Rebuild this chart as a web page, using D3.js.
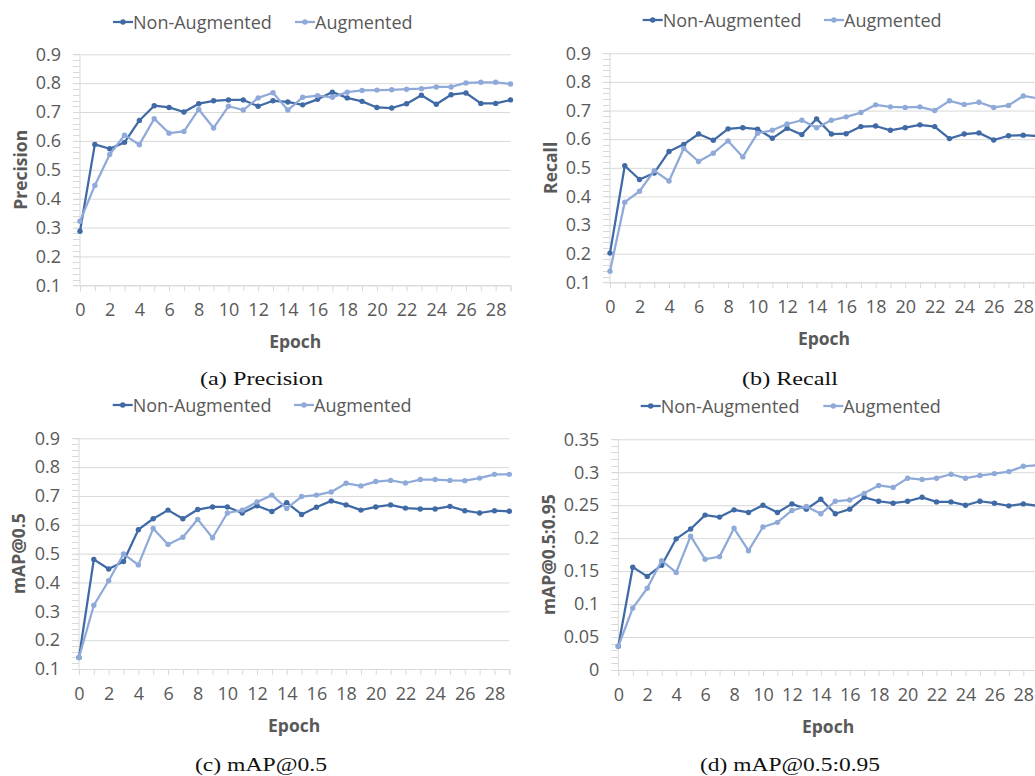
<!DOCTYPE html>
<html>
<head>
<meta charset="utf-8">
<script src="https://cdn.jsdelivr.net/npm/d3@7"></script>
<style>
  body { margin: 0; background: #fff; }
  svg { display: block; }
</style>
</head>
<body>
<svg id="chart" width="1035" height="776"></svg>
<script>
// data
const EPOCHS = [0, 1, 2, 3, 4, 5, 6, 7, 8, 9, 10, 11, 12, 13, 14, 15, 16, 17, 18, 19, 20, 21, 22, 23, 24, 25, 26, 27, 28, 29]
const SERIES_NAMES = ["Non-Augmented", "Augmented"]
const X_TICK_LABELS = [0, 2, 4, 6, 8, 10, 12, 14, 16, 18, 20, 22, 24, 26, 28]

const PRECISION_NON = [0.287, 0.588, 0.573, 0.595, 0.671, 0.722, 0.716, 0.700, 0.729, 0.739, 0.742, 0.742, 0.720, 0.739, 0.735, 0.725, 0.744, 0.769, 0.749, 0.737, 0.716, 0.714, 0.729, 0.758, 0.727, 0.760, 0.766, 0.730, 0.730, 0.742]
const PRECISION_AUG = [0.322, 0.446, 0.553, 0.620, 0.587, 0.677, 0.627, 0.633, 0.709, 0.645, 0.720, 0.707, 0.749, 0.767, 0.707, 0.751, 0.757, 0.751, 0.769, 0.775, 0.776, 0.777, 0.779, 0.781, 0.787, 0.787, 0.801, 0.803, 0.803, 0.797]

const RECALL_NON = [0.202, 0.507, 0.459, 0.482, 0.557, 0.582, 0.618, 0.596, 0.636, 0.640, 0.635, 0.603, 0.638, 0.616, 0.671, 0.618, 0.619, 0.644, 0.646, 0.631, 0.640, 0.650, 0.644, 0.602, 0.618, 0.622, 0.597, 0.612, 0.614, 0.611]
const RECALL_AUG = [0.139, 0.380, 0.418, 0.490, 0.454, 0.568, 0.522, 0.551, 0.594, 0.538, 0.621, 0.631, 0.653, 0.666, 0.640, 0.666, 0.678, 0.693, 0.720, 0.713, 0.711, 0.713, 0.700, 0.734, 0.721, 0.729, 0.711, 0.718, 0.751, 0.743]

const MAP50_NON = [0.140, 0.480, 0.447, 0.473, 0.583, 0.621, 0.651, 0.621, 0.653, 0.662, 0.662, 0.641, 0.666, 0.646, 0.677, 0.636, 0.661, 0.683, 0.669, 0.651, 0.662, 0.669, 0.658, 0.655, 0.655, 0.664, 0.649, 0.641, 0.649, 0.647]
const MAP50_AUG = [0.140, 0.321, 0.406, 0.499, 0.461, 0.587, 0.532, 0.557, 0.619, 0.555, 0.641, 0.651, 0.679, 0.703, 0.657, 0.698, 0.703, 0.714, 0.744, 0.735, 0.750, 0.754, 0.745, 0.757, 0.757, 0.754, 0.753, 0.762, 0.775, 0.775]

const MAP5095_NON = [0.036, 0.156, 0.142, 0.159, 0.199, 0.214, 0.235, 0.232, 0.243, 0.239, 0.250, 0.239, 0.252, 0.244, 0.259, 0.237, 0.244, 0.262, 0.256, 0.253, 0.256, 0.262, 0.255, 0.255, 0.250, 0.256, 0.253, 0.249, 0.252, 0.249]
const MAP5095_AUG = [0.036, 0.094, 0.124, 0.166, 0.148, 0.203, 0.168, 0.172, 0.215, 0.181, 0.217, 0.224, 0.242, 0.248, 0.237, 0.256, 0.258, 0.268, 0.280, 0.277, 0.291, 0.289, 0.291, 0.297, 0.291, 0.295, 0.298, 0.301, 0.309, 0.311]

const Y_TICKS_RATE = [0.1, 0.2, 0.3, 0.4, 0.5, 0.6, 0.7, 0.8, 0.9]
const Y_TICKS_MAP5095 = [0, 0.05, 0.1, 0.15, 0.2, 0.25, 0.3, 0.35]

const COLORS = ["#3f6aa5", "#8faad8"]
const TEXT_COLOR = "#595959"
const GRID_COLOR = "#d9d9d9"
const SANS = "'Open Sans', sans-serif"
const SERIF = "'Liberation Serif', serif"

const svg = d3.select("#chart")

// one panel per metric; layout numbers are pixel positions in the page
const panels = [
  { title: "Precision", caption: "(a) Precision", capW: 123, series: [PRECISION_NON, PRECISION_AUG],
    yTicks: Y_TICKS_RATE, minor: 0.02, x0: 80, x1: 510.5, yTop: 54.3, yBot: 285.3,
    legendY: 22, legendX: 113, legendX2: 295, titleX: 20, capX: 261.5, capY: 379 },
  { title: "Recall", caption: "(b) Recall", capW: 96, series: [RECALL_NON, RECALL_AUG],
    yTicks: Y_TICKS_RATE, minor: 0.02, x0: 610, x1: 1038, yTop: 53.3, yBot: 282.3,
    legendY: 20, legendX: 642.7, legendX2: 824, titleX: 550, capX: 790, capY: 379 },
  { title: "mAP@0.5", caption: "(c) mAP@0.5", capW: 132, series: [MAP50_NON, MAP50_AUG],
    yTicks: Y_TICKS_RATE, minor: 0.02, x0: 79, x1: 509.3, yTop: 438.3, yBot: 669,
    legendY: 405, legendX: 112.7, legendX2: 294, titleX: 18, capX: 261, capY: 765 },
  { title: "mAP@0.5:0.95", caption: "(d) mAP@0.5:0.95", capW: 180, series: [MAP5095_NON, MAP5095_AUG],
    yTicks: Y_TICKS_MAP5095, minor: 0.01, x0: 618.3, x1: 1037.8, yTop: 439.3, yBot: 670,
    legendY: 406, legendX: 640.7, legendX2: 823.3, titleX: 548, capX: 790, capY: 765 },
]

const drawPanel = (p) => {
  const g = svg.append("g")
  const yMin = p.yTicks[0]
  const yMax = p.yTicks[p.yTicks.length - 1]

  const x = d3.scaleLinear().domain([EPOCHS[0], EPOCHS[EPOCHS.length - 1]]).range([p.x0, p.x1])
  const y = d3.scaleLinear().domain([yMin, yMax]).range([p.yBot, p.yTop])

  // minor ticks on the y axis
  const minorTicks = d3.range(yMin, yMax + p.minor / 2, p.minor)
  g.selectAll(".minor")
    .data(minorTicks)
    .join("line")
    .attr("x1", p.x0 - 7)
    .attr("x2", p.x0)
    .attr("y1", (d) => Math.round(y(d)) + 0.5)
    .attr("y2", (d) => Math.round(y(d)) + 0.5)
    .attr("stroke", GRID_COLOR)
    .attr("stroke-width", 1)

  // gridlines + y labels
  const yAxis = d3.axisLeft(y)
    .tickValues(p.yTicks)
    .tickSize(-(p.x1 - p.x0))
    .tickPadding(19)
    .tickFormat((d) => String(d))
  const ya = g.append("g").attr("transform", `translate(${p.x0},0)`).call(yAxis)
  ya.select(".domain").remove()
  ya.selectAll(".tick line").attr("stroke", GRID_COLOR).attr("x2", p.x1 - p.x0).attr("x1", -6)
  ya.selectAll(".tick text")
    .attr("fill", TEXT_COLOR)
    .attr("font-family", SANS)
    .attr("font-size", 18)

  // y axis line
  g.append("line")
    .attr("x1", p.x0).attr("x2", p.x0)
    .attr("y1", p.yTop).attr("y2", p.yBot)
    .attr("stroke", GRID_COLOR)

  // x axis: tick at every epoch, label every other one
  const xAxis = d3.axisBottom(x)
    .tickValues(EPOCHS)
    .tickSize(6)
    .tickPadding(12)
    .tickFormat((d) => (X_TICK_LABELS.includes(d) ? d : ""))
  const xa = g.append("g").attr("transform", `translate(0,${p.yBot})`).call(xAxis)
  xa.select(".domain").attr("stroke", GRID_COLOR)
  xa.selectAll(".tick line").attr("stroke", GRID_COLOR)
  xa.selectAll(".tick text")
    .attr("fill", TEXT_COLOR)
    .attr("font-family", SANS)
    .attr("font-size", 18)

  // axis titles
  g.append("text")
    .attr("x", (p.x0 + p.x1) / 2)
    .attr("y", p.yBot + 56)
    .attr("text-anchor", "middle")
    .attr("dominant-baseline", "central")
    .attr("font-family", SANS)
    .attr("font-weight", "bold")
    .attr("font-size", 17.5)
    .attr("fill", TEXT_COLOR)
    .text("Epoch")

  g.append("text")
    .attr("transform", `translate(${p.titleX},${(p.yTop + p.yBot) / 2}) rotate(-90)`)
    .attr("text-anchor", "middle")
    .attr("dominant-baseline", "central")
    .attr("font-family", SANS)
    .attr("font-weight", "bold")
    .attr("font-size", 17.5)
    .attr("fill", TEXT_COLOR)
    .text(p.title)

  // series
  const line = d3.line().x((d, i) => x(EPOCHS[i])).y((d) => y(d))
  p.series.forEach((values, s) => {
    g.append("path")
      .attr("d", line(values))
      .attr("fill", "none")
      .attr("stroke", COLORS[s])
      .attr("stroke-width", 2.25)
      .attr("stroke-linejoin", "round")
    g.selectAll(`.pt${s}`)
      .data(values)
      .join("circle")
      .attr("cx", (d, i) => x(EPOCHS[i]))
      .attr("cy", (d) => y(d))
      .attr("r", 2.7)
      .attr("fill", COLORS[s])
  })

  // legend
  ;[p.legendX, p.legendX2].forEach((lx, s) => {
    g.append("line")
      .attr("x1", lx).attr("x2", lx + 20)
      .attr("y1", p.legendY).attr("y2", p.legendY)
      .attr("stroke", COLORS[s])
      .attr("stroke-width", 2.25)
    g.append("circle")
      .attr("cx", lx + 10).attr("cy", p.legendY)
      .attr("r", 2.7)
      .attr("fill", COLORS[s])
    g.append("text")
      .attr("x", lx + 20)
      .attr("y", p.legendY)
      .attr("dominant-baseline", "central")
      .attr("font-family", SANS)
      .attr("font-size", 18)
      .attr("fill", TEXT_COLOR)
      .text(SERIES_NAMES[s])
  })

  // subfigure caption
  svg.append("text")
    .attr("x", p.capX)
    .attr("y", p.capY)
    .attr("text-anchor", "middle")
    .attr("dominant-baseline", "central")
    .attr("font-family", SERIF)
    .attr("font-size", 18)
    .attr("fill", "#111")
    .attr("textLength", p.capW)
    .attr("lengthAdjust", "spacingAndGlyphs")
    .text(p.caption)
}

panels.forEach(drawPanel)
</script>
</body>
</html>
